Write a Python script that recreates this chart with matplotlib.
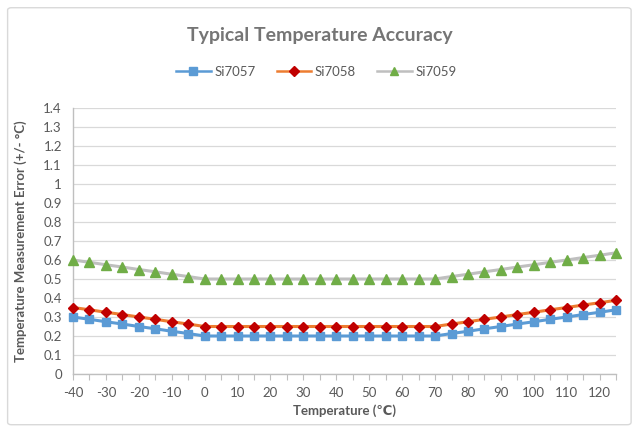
import matplotlib as mpl
mpl.use('Agg')
import matplotlib.pyplot as plt
from matplotlib.patches import FancyBboxPatch

plt.rcParams['font.family'] = ['Lato', 'DejaVu Sans']

temps = [-40, -35, -30, -25, -20, -15, -10, -5, 0, 5, 10, 15, 20, 25, 30, 35,
         40, 45, 50, 55, 60, 65, 70, 75, 80, 85, 90, 95, 100, 105, 110, 115, 120, 125]

si7057 = [0.300, 0.288, 0.275, 0.263, 0.250, 0.238, 0.225, 0.213, 0.200,
          0.200, 0.200, 0.200, 0.200, 0.200, 0.200, 0.200, 0.200, 0.200, 0.200,
          0.200, 0.200, 0.200, 0.200,
          0.213, 0.225, 0.238, 0.250, 0.263, 0.275, 0.288, 0.300, 0.313, 0.325, 0.338]
si7058 = [0.350, 0.338, 0.325, 0.313, 0.300, 0.288, 0.275, 0.263, 0.250,
          0.250, 0.250, 0.250, 0.250, 0.250, 0.250, 0.250, 0.250, 0.250, 0.250,
          0.250, 0.250, 0.250, 0.250,
          0.263, 0.275, 0.288, 0.300, 0.313, 0.325, 0.338, 0.350, 0.363, 0.375, 0.388]
si7059 = [0.600, 0.588, 0.575, 0.563, 0.550, 0.538, 0.525, 0.513, 0.500,
          0.500, 0.500, 0.500, 0.500, 0.500, 0.500, 0.500, 0.500, 0.500, 0.500,
          0.500, 0.500, 0.500, 0.500,
          0.513, 0.525, 0.538, 0.550, 0.563, 0.575, 0.588, 0.600, 0.613, 0.625, 0.638]

txt = '#595959'
fig = plt.figure(figsize=[6.33, 4.29], dpi=100)
border = FancyBboxPatch((0.012, 0.01), 0.985, 0.972, boxstyle='round,pad=0,rounding_size=0.006',
                        transform=fig.transFigure, fc='none', ec='#d9d9d9', lw=1, zorder=-10)
fig.patches.append(border)
ax = fig.add_axes([0.1153, 0.1282, 0.858, 0.620])

ax.plot(temps, si7057, color='#5B9BD5', lw=2.2, marker='s', ms=6.3, mfc='#5B9BD5', mec='#5B9BD5',
        label='Si7057', zorder=3, clip_on=False)
ax.plot(temps, si7058, color='#ED7D31', lw=2.2, marker='D', ms=5.2, mfc='#C00000', mec='#C00000',
        label='Si7058', zorder=3, clip_on=False)
ax.plot(temps, si7059, color='#BFBFBF', lw=2.2, marker='^', ms=7.5, mfc='#70AD47', mec='#70AD47',
        label='Si7059', zorder=3, clip_on=False)

ax.set_xlim(-40, 125)
ax.set_ylim(0, 1.4)
ax.set_xticks(range(-40, 126, 5))
ax.set_xticklabels([str(t) if t % 10 == 0 else '' for t in range(-40, 126, 5)])
ax.set_yticks([i / 10 for i in range(15)])
ax.set_yticklabels(['0'] + ['%.1f' % (i / 10) for i in range(1, 10)] + ['1'] + ['%.1f' % (i / 10) for i in range(11, 15)])
ax.grid(axis='y', color='#d9d9d9', lw=0.9)
ax.set_axisbelow(True)
for s in ('top', 'right'):
    ax.spines[s].set_visible(False)
for s in ('left', 'bottom'):
    ax.spines[s].set_color('#bfbfbf')
    ax.spines[s].set_linewidth(1)
ax.tick_params(axis='x', length=4, color='#bfbfbf', labelsize=9.5, labelcolor=txt, pad=5)
ax.tick_params(axis='y', length=0, labelsize=9.5, labelcolor=txt, pad=8)

ax.set_xlabel('Temperature (\u2103)', fontsize=9.5, fontweight='bold', color=txt, labelpad=4)
ax.set_ylabel('Temperature Measurement Error (+/- \u00b0C)', fontsize=9.5, fontweight='bold', color=txt, labelpad=12)

fig.text(0.505, 0.918, 'Typical Temperature Accuracy', ha='center', va='center', fontsize=14,
         fontweight='bold', color='#757575')
leg = fig.legend(loc='center', bbox_to_anchor=(0.5, 0.832), ncol=3, frameon=False, fontsize=9.5,
                 labelcolor=txt, handlelength=2.6, columnspacing=1.6, handletextpad=0.3)
for h, ms in zip(leg.legend_handles, [6, 5, 6]):
    h.set_linewidth(1.8)
    h.set_markersize(ms)

plt.savefig('out.png')
